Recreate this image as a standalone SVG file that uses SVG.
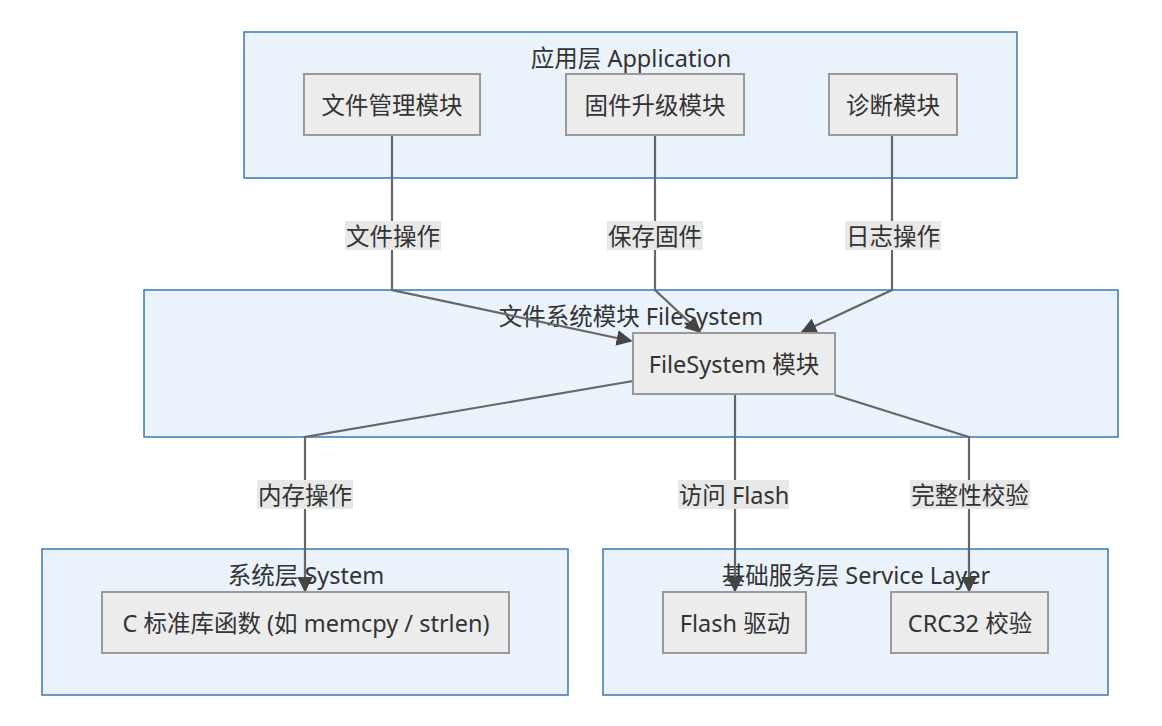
<svg xmlns="http://www.w3.org/2000/svg" width="1162" height="726" viewBox="0 0 1162 726">
<style>
.cl{fill:#eaf2fb;stroke:#3a77b5;stroke-width:1.5}
.nd{fill:#ececec;stroke:#9a9a9a;stroke-width:2}
.t{font-family:"Noto Sans","Noto Sans CJK SC",sans-serif;font-size:23.5px;fill:#333;text-anchor:middle;dominant-baseline:central}
.e{fill:none;stroke:#666;stroke-width:2.2}
.lb{fill:#e8e8e8}
</style>
<defs>
<marker id="a" viewBox="0 0 10 10" refX="9" refY="5" markerWidth="16" markerHeight="16" markerUnits="userSpaceOnUse" orient="auto">
<path d="M0,0 L10,5 L0,10 z" fill="#444"/>
</marker>
</defs>
<g id="cluster-app"><rect class="cl" x="244" y="32" width="773" height="146"/><text class="t" x="631" y="58">应用层 Application</text></g>
<g id="cluster-fs"><rect class="cl" x="144" y="290" width="974" height="147"/><text class="t" x="631" y="316">文件系统模块 FileSystem</text></g>
<g id="cluster-sys"><rect class="cl" x="42" y="549" width="526" height="146"/><text class="t" x="306" y="575">系统层 System</text></g>
<g id="cluster-svc"><rect class="cl" x="603" y="549" width="505" height="146"/><text class="t" x="856" y="575">基础服务层 Service Layer</text></g>
<g id="edges">
<polyline class="e" points="392,135 392,290 631,341" marker-end="url(#a)"/>
<polyline class="e" points="655,135 655,290 700,332" marker-end="url(#a)"/>
<polyline class="e" points="892,135 892,290 802,332" marker-end="url(#a)"/>
<polyline class="e" points="633,381 305,437 305,591" marker-end="url(#a)"/>
<polyline class="e" points="735,394 735,591" marker-end="url(#a)"/>
<polyline class="e" points="835,395 969,437 969,591" marker-end="url(#a)"/>
<rect class="lb" x="345" y="221" width="96" height="29"/><text class="t" x="393" y="236">文件操作</text>
<rect class="lb" x="607" y="221" width="96" height="29"/><text class="t" x="655" y="236">保存固件</text>
<rect class="lb" x="845" y="221" width="96" height="29"/><text class="t" x="893" y="236">日志操作</text>
<rect class="lb" x="257" y="480" width="96" height="29"/><text class="t" x="305" y="495">内存操作</text>
<rect class="lb" x="678" y="480" width="111" height="29"/><text class="t" x="734" y="495">访问 Flash</text>
<rect class="lb" x="910" y="480" width="120" height="29"/><text class="t" x="970" y="495">完整性校验</text>
</g>
<g id="n-filemgr"><rect class="nd" x="304" y="74" width="176" height="61"/><text class="t" x="392" y="105">文件管理模块</text></g>
<g id="n-fw"><rect class="nd" x="566" y="74" width="178" height="61"/><text class="t" x="655" y="105">固件升级模块</text></g>
<g id="n-diag"><rect class="nd" x="829" y="74" width="128" height="61"/><text class="t" x="893" y="105">诊断模块</text></g>
<g id="n-fs"><rect class="nd" x="633" y="333" width="202" height="61"/><text class="t" x="734" y="364">FileSystem 模块</text></g>
<g id="n-clib"><rect class="nd" x="102" y="592" width="407" height="61"/><text class="t" x="306" y="623">C 标准库函数 (如 memcpy / strlen)</text></g>
<g id="n-flash"><rect class="nd" x="663" y="592" width="143" height="61"/><text class="t" x="735" y="623">Flash 驱动</text></g>
<g id="n-crc"><rect class="nd" x="891" y="592" width="157" height="61"/><text class="t" x="970" y="623">CRC32 校验</text></g>
</svg>
